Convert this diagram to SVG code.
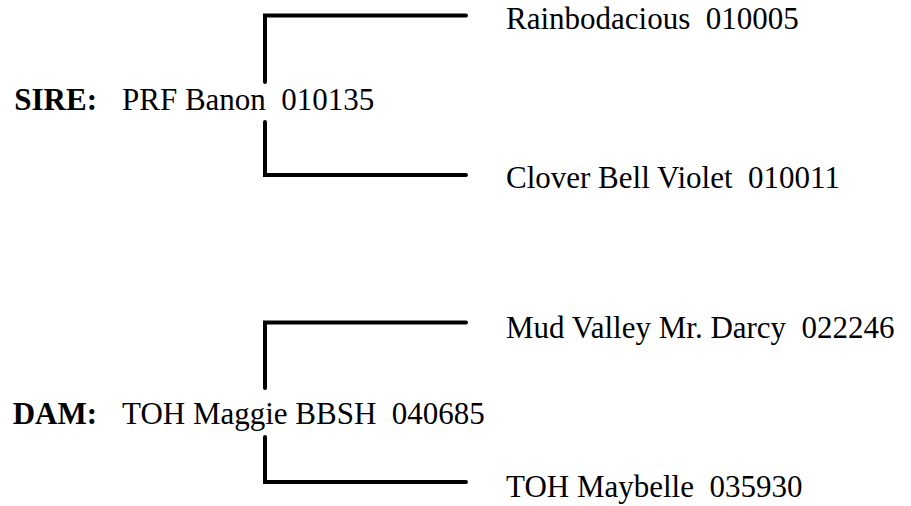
<svg xmlns="http://www.w3.org/2000/svg" width="911" height="506" viewBox="0 0 911 506">
<style>
text{font-family:"Liberation Serif","Times New Roman",serif;font-size:31px;fill:#000;white-space:pre}
.b{font-weight:bold}
.c{fill:none;stroke:#000;stroke-width:4;stroke-linecap:round;stroke-linejoin:miter}
</style>
<rect width="911" height="506" fill="#fff"/>
<g id="connectors">
<path class="c" d="M466,15.5 H265 V82"/>
<path class="c" d="M265,122 V175 H466"/>
<path class="c" d="M466,322.5 H265 V388"/>
<path class="c" d="M265,437 V482 H466"/>
</g>
<g id="sire"><text x="97" y="110" text-anchor="end" class="b">SIRE:</text><text x="122" y="110">PRF Banon  010135</text></g>
<g id="sire-sire"><text x="506" y="29">Rainbodacious  010005</text></g>
<g id="sire-dam"><text x="506" y="188">Clover Bell Violet  010011</text></g>
<g id="dam"><text x="97" y="424" text-anchor="end" class="b">DAM:</text><text x="122" y="424">TOH Maggie BBSH  040685</text></g>
<g id="dam-sire"><text x="506" y="338">Mud Valley Mr. Darcy  022246</text></g>
<g id="dam-dam"><text x="506" y="497">TOH Maybelle  035930</text></g>
</svg>
